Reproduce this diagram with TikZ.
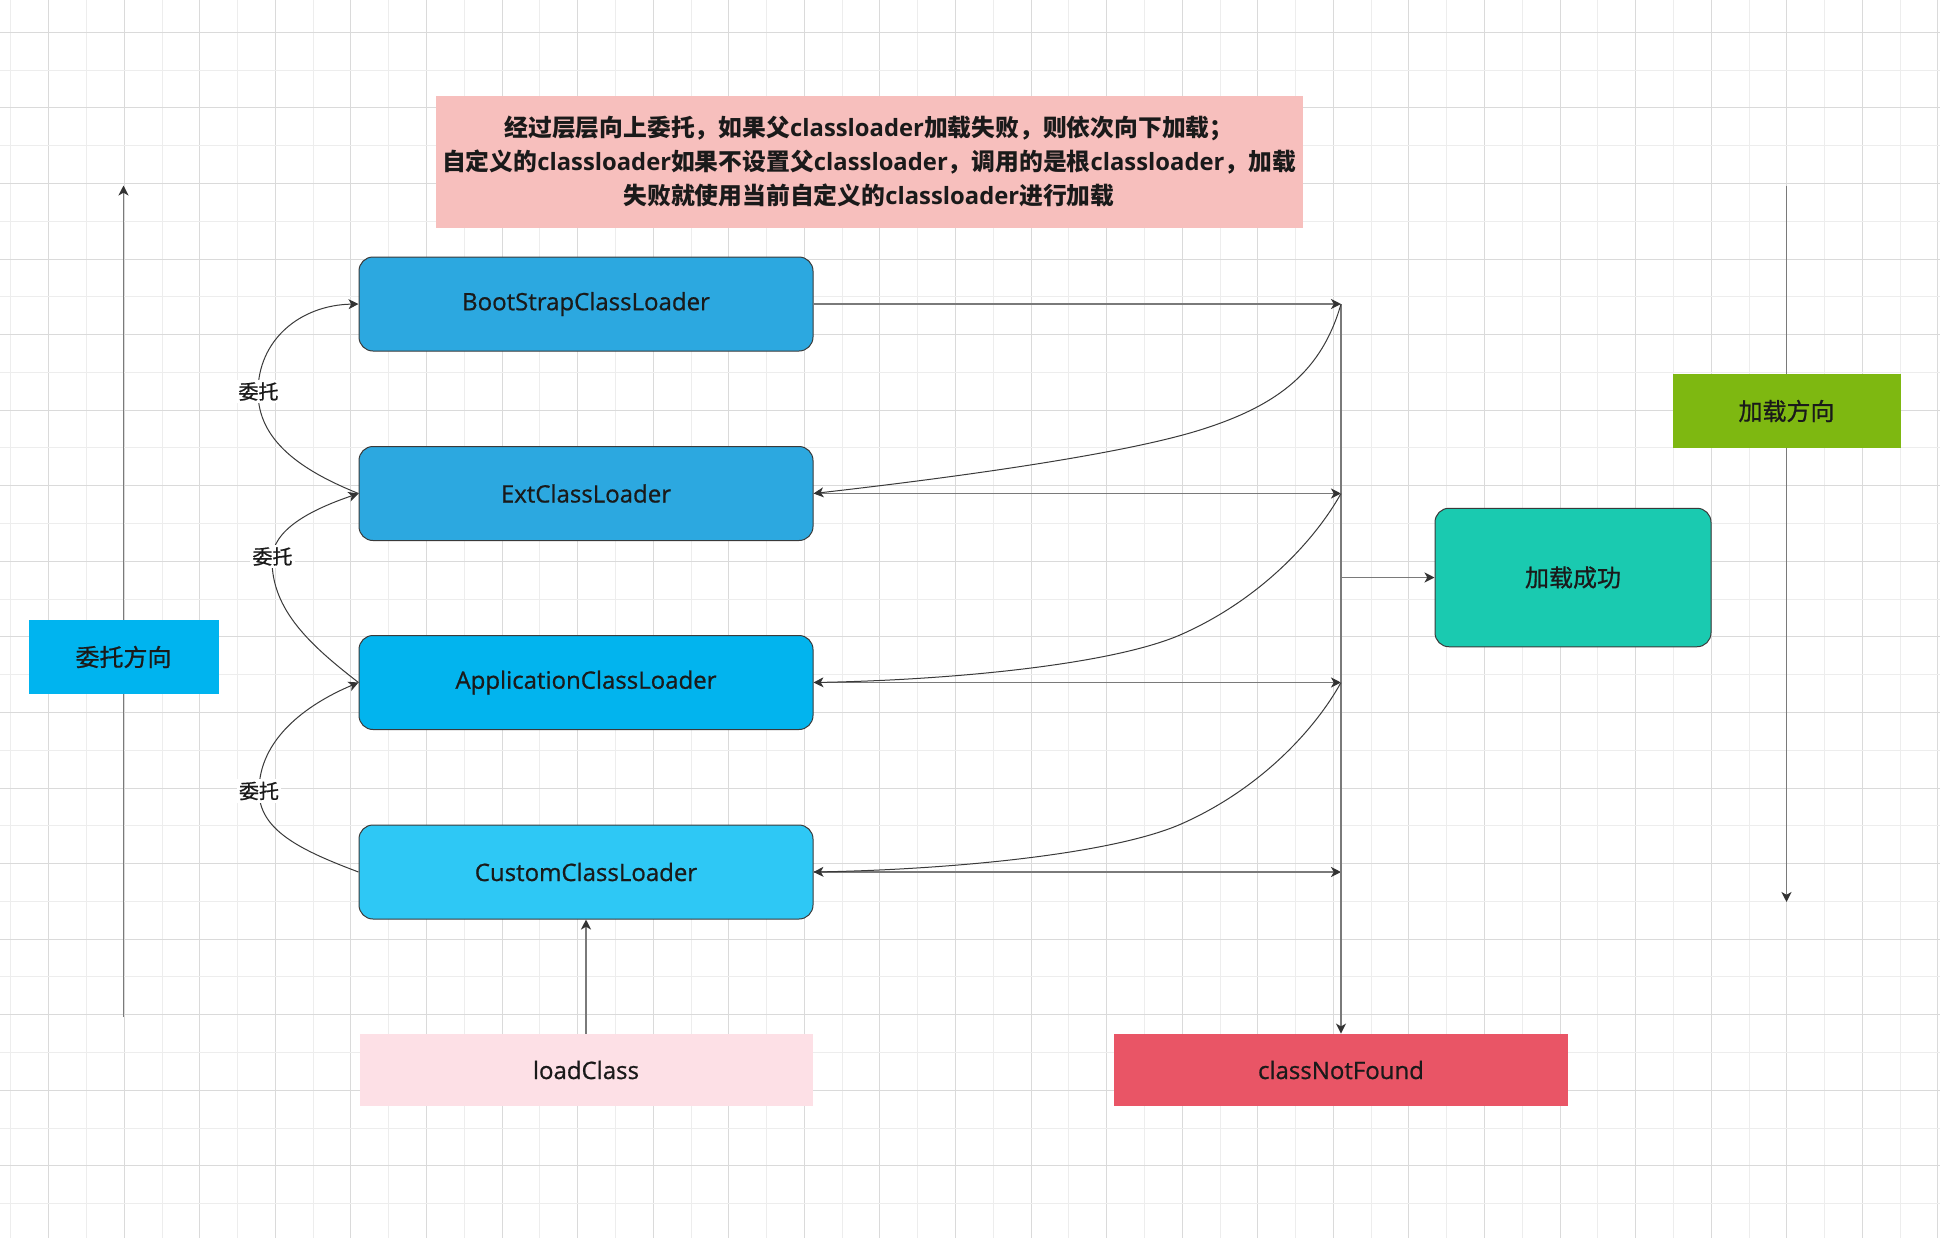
\documentclass[tikz,border=0pt]{standalone}
\usepackage{fontspec}
\setmainfont{Open Sans}
\newfontfamily\cjk{Noto Sans CJK SC}
\newfontfamily\lab[FakeBold=0.8]{Open Sans}
\newfontfamily\cjkl[FakeBold=0.8]{Noto Sans CJK SC}
\usetikzlibrary{arrows.meta,calc}
\definecolor{gridlight}{HTML}{EDEDED}
\definecolor{griddark}{HTML}{DADADA}
\definecolor{boxline}{HTML}{3A3A3A}
\definecolor{txt}{HTML}{1A1A1A}
\definecolor{linec}{HTML}{7A7A7A}
\definecolor{curvecol}{HTML}{3A3A3A}
\definecolor{tipc}{HTML}{333333}
\definecolor{cboot}{HTML}{2CA8E0}
\definecolor{capp}{HTML}{02B4EE}
\definecolor{ccustom}{HTML}{2EC8F5}
\definecolor{cok}{HTML}{1ACAB0}
\definecolor{cload}{HTML}{FDE0E6}
\definecolor{cnf}{HTML}{E95566}
\definecolor{cdirdown}{HTML}{7EB811}
\definecolor{cdirup}{HTML}{00B4EF}
\definecolor{cnote}{HTML}{F7BFBD}
\begin{document}
\begin{tikzpicture}[x=0.5pt,y=-0.5pt,
  tipend/.style={-{Stealth[length=5pt,width=5pt,inset=1.4pt,color=tipc]}},
  conn/.style={draw=linec,line width=0.75pt,tipend},
  curvec/.style={draw=curvecol,line width=0.5pt,tipend},
  loaderbox/.style={draw=boxline,line width=0.5pt,rounded corners=7pt,
    minimum width=227pt,minimum height=47pt,inner sep=0pt,text=txt,
    font=\fontsize{12pt}{14pt}\selectfont\lab},
  flatbox/.style={inner sep=0pt,text=txt,font=\fontsize{12pt}{14pt}\selectfont\lab},
  lbl/.style={fill=white,inner sep=1.2pt,text=txt,font=\fontsize{10pt}{12pt}\selectfont}]
% background and grid
\useasboundingbox (0,0) rectangle (1940,1238);
\fill[white] (0,0) rectangle (1940,1238);
\foreach \k in {0,...,25}{
  \draw[gridlight,line width=0.5pt] ({10.9+75.57*\k},0) -- ({10.9+75.57*\k},1238);
  \draw[griddark,line width=0.5pt] ({48.7+75.57*\k},0) -- ({48.7+75.57*\k},1238);
}
\foreach \k in {0,...,16}{
  \draw[gridlight,line width=0.5pt] (0,{70.1+75.57*\k}) -- (1940,{70.1+75.57*\k});
  \draw[griddark,line width=0.5pt] (0,{32.3+75.57*\k}) -- (1940,{32.3+75.57*\k});
}
% direction axes (behind their labels)
\coordinate (upbot) at (123.5,1017);
\coordinate (uptop) at (123.5,185.5);
\coordinate (dntop) at (1786.5,185.5);
\coordinate (dnbot) at (1786.5,902);
\draw[conn] (upbot) -- (uptop);
\draw[conn] (dntop) -- (dnbot);
\node[flatbox,fill=cdirup,minimum width=95pt,minimum height=37.25pt] (updir) at (123.5,657) {\cjkl 委托方向};
\node[flatbox,fill=cdirdown,minimum width=114pt,minimum height=37pt] (dndir) at (1786.5,411) {\cjkl 加载方向};
% note
\node[inner sep=0pt,text=txt,fill=cnote,minimum width=433.5pt,minimum height=66pt,align=center,
  font=\fontsize{11.9pt}{17pt}\selectfont\bfseries] (note) at (869,161.5)
  {{\cjk 经过层层向上委托，如果父}classloader{\cjk 加载失败，则依次向下加载；}\\
   {\cjk 自定义的}classloader{\cjk 如果不设置父}classloader{\cjk ，调用的是根}classloader{\cjk ，加载}\\
   {\cjk 失败就使用当前自定义的}classloader{\cjk 进行加载}};
% loaders
\node[loaderbox,fill=cboot] (boot) at (586,304) {BootStrapClassLoader};
\node[loaderbox,fill=cboot] (ext) at (586,493.5) {ExtClassLoader};
\node[loaderbox,fill=capp] (app) at (586,682.5) {ApplicationClassLoader};
\node[loaderbox,fill=ccustom] (custom) at (586,872) {CustomClassLoader};
\node[flatbox,fill=cload,minimum width=226.5pt,minimum height=36pt] (load) at (586,1070) {loadClass};
\node[flatbox,fill=cnf,minimum width=227pt,minimum height=36pt] (nf) at (1341,1070) {classNotFound};
\node[loaderbox,fill=cok,minimum width=138pt,minimum height=69.25pt] (ok) at (1573,577.5) {\cjkl 加载成功};
% right junction points
\coordinate (r1) at (1341,304);
\coordinate (r2) at (1341,493.5);
\coordinate (r3) at (1341,682.5);
\coordinate (r4) at (1341,872);
\draw[conn] (boot.east) -- (r1);
\draw[conn] (ext.east) -- (r2);
\draw[conn] (app.east) -- (r3);
\draw[conn] (custom.east) -- (r4);
\draw[conn] (r1) -- (nf.north);
\draw[conn] (ok.west -| r1) -- (ok.west);
\draw[conn] (load.north) -- (custom.south);
% load-back curves
\draw[curvec] (r1) .. controls (1322,370) and (1280,405) .. (1200,430)
  .. controls (1120,455) and (950,478) .. (ext.east);
\draw[curvec] (r2) .. controls (1315,540) and (1260,600) .. (1180,635)
  .. controls (1110,665) and (950,680) .. (app.east);
\draw[curvec] (r3) .. controls (1315,729.5) and (1260,789.5) .. (1180,824.5)
  .. controls (1110,854.5) and (950,869.5) .. (custom.east);
% delegation curves
\draw[curvec] (ext.west) .. controls (300,470) and (258,440) .. (258,392)
  .. controls (258,340) and (300,305) .. (boot.west);
\draw[curvec] (app.west) .. controls (310,645) and (272,610) .. (272,560)
  .. controls (272,530) and (310,510) .. (ext.west);
\draw[curvec] (custom.west) .. controls (300,850) and (259,830) .. (259,791)
  .. controls (259,740) and (305,705) .. (app.west);
\node[lbl] (d1) at (258.5,391.5) {\cjkl 委托};
\node[lbl] (d2) at (272.5,556.5) {\cjkl 委托};
\node[lbl] (d3) at (259,791) {\cjkl 委托};
\end{tikzpicture}
\end{document}
